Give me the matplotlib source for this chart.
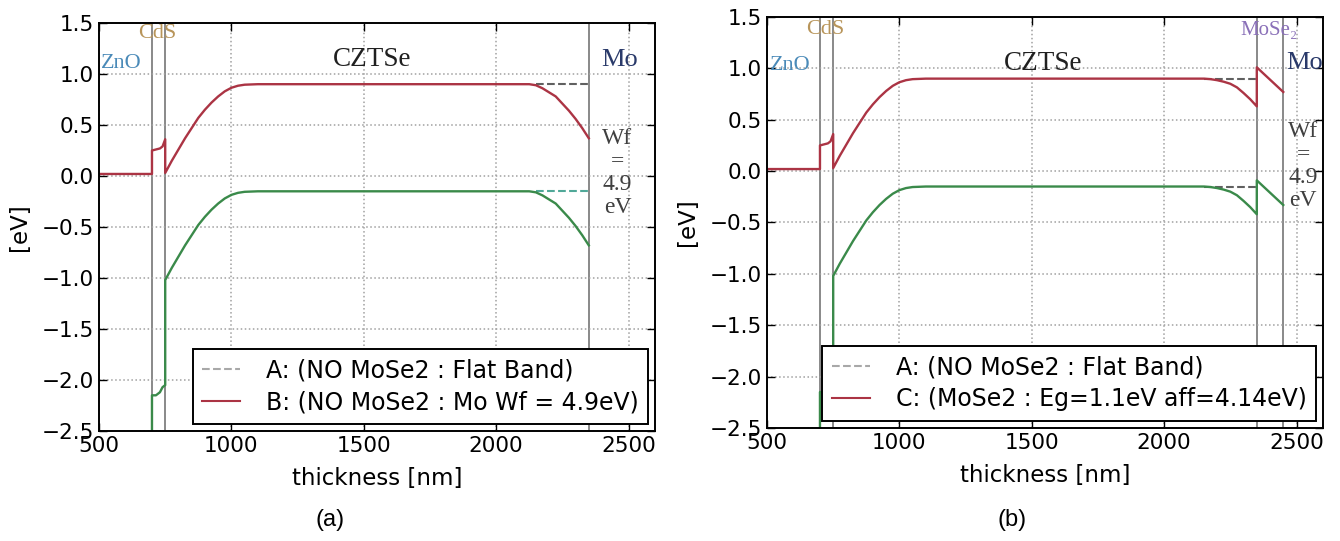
import matplotlib
matplotlib.use("Agg")
import matplotlib.pyplot as plt
from matplotlib.lines import Line2D

# thickness [nm] for ZnO / CdS / front of CZTSe (shared by both panels)
x_front = [500, 700, 700, 715, 730, 740, 750, 750, 775, 800, 825, 850, 875, 900,
           925, 950, 975, 1000, 1025, 1050, 1100, 2125]
cb_front = [0.02, 0.02, 0.25, 0.26, 0.27, 0.29, 0.36, 0.03, 0.15, 0.26, 0.37, 0.47,
            0.57, 0.65, 0.72, 0.78, 0.83, 0.865, 0.885, 0.895, 0.9, 0.9]
vb_front = [-3.28, -3.28, -2.15, -2.15, -2.12, -2.07, -2.05, -1.02, -0.9, -0.79,
            -0.68, -0.58, -0.48, -0.40, -0.33, -0.27, -0.22, -0.185, -0.165,
            -0.155, -0.15, -0.15]

# back contact, case B (no MoSe2, Mo Wf = 4.9 eV)
x_back_a = [2150, 2175, 2200, 2225, 2250, 2275, 2300, 2325, 2350]
cb_back_a = [0.89, 0.86, 0.82, 0.78, 0.71, 0.64, 0.56, 0.47, 0.37]
vb_back_a = [-0.16, -0.19, -0.23, -0.27, -0.34, -0.41, -0.49, -0.58, -0.68]

# back contact, case C (MoSe2 layer 2350-2450 nm)
x_back_b = [2150, 2175, 2200, 2225, 2250, 2275, 2300, 2325, 2350, 2350,
            2375, 2400, 2425, 2450]
cb_back_b = [0.9, 0.895, 0.885, 0.87, 0.85, 0.815, 0.76, 0.70, 0.63, 1.01,
             0.95, 0.89, 0.83, 0.77]
vb_back_b = [-0.15, -0.155, -0.165, -0.18, -0.20, -0.235, -0.29, -0.35, -0.42,
             -0.09, -0.15, -0.21, -0.27, -0.33]

# case A: flat band at the back
x_flat = [2150, 2350]
cb_flat = [0.9, 0.9]
vb_flat = [-0.15, -0.15]

bounds_a = [700, 750, 2350]
bounds_b = [700, 750, 2350, 2450]

CB_COLOR = '#ab3444'
VB_COLOR = '#3a8a4a'
SERIF = ['Liberation Serif', 'DejaVu Serif']

plt.rcParams['font.family'] = ['DejaVu Sans']

fig = plt.figure(figsize=(13.4, 5.41), dpi=100)
ax_a = fig.add_axes([0.0739, 0.2033, 0.4149, 0.7542])
ax_b = fig.add_axes([0.5724, 0.2089, 0.4149, 0.7597])


def setup_axes(ax, bounds):
    for b in bounds:
        ax.axvline(b, color='#808080', lw=1.3, zorder=1)
    ax.set_xlim(500, 2600)
    ax.set_ylim(-2.5, 1.5)
    ax.set_xticks([500, 1000, 1500, 2000, 2500])
    ax.set_yticks([-2.5, -2.0, -1.5, -1.0, -0.5, 0.0, 0.5, 1.0, 1.5])
    ax.grid(True, ls=':', color='#a0a0a0', lw=1.1)
    ax.tick_params(direction='in', top=True, right=True, length=6,
                   labelsize=15.5, width=1)
    for s in ax.spines.values():
        s.set_linewidth(1.4)
    ax.set_xlabel('thickness [nm]', fontsize=16.5, labelpad=8)
    ax.set_ylabel('[eV]', fontsize=16.5, labelpad=8)


def legend(ax, label_b):
    handles = [Line2D([], [], color='#a8a8a8', ls='--', lw=1.5),
               Line2D([], [], color=CB_COLOR, lw=1.5)]
    leg = ax.legend(handles, ['A: (NO MoSe2 : Flat Band)', label_b],
                    loc='lower right', fontsize=17, fancybox=False,
                    framealpha=1, edgecolor='black', handlelength=1.6,
                    handletextpad=1.1, borderaxespad=0.3, labelspacing=0.35)
    leg.get_frame().set_linewidth(1.4)


# ---- panel (a)
setup_axes(ax_a, bounds_a)
ax_a.plot(x_flat, cb_flat, ls='--', color='#606060', lw=1.5)
ax_a.plot(x_flat, vb_flat, ls='--', color='#50a898', lw=1.5)
ax_a.plot(x_front + x_back_a, cb_front + cb_back_a, color=CB_COLOR, lw=1.7)
ax_a.plot(x_front + x_back_a, vb_front + vb_back_a, color=VB_COLOR, lw=1.7)
ax_a.text(583, 1.1, 'ZnO', color='#4a8ab8', fontsize=16, family=SERIF,
          ha='center', va='center')
ax_a.text(720, 1.40, 'CdS', color='#b8955a', fontsize=16, family=SERIF,
          ha='center', va='center')
ax_a.text(1530, 1.14, 'CZTSe', color='#202020', fontsize=19.5, family=SERIF,
          ha='center', va='center')
ax_a.text(2466, 1.14, 'Mo', color='#2a3a6a', fontsize=19, family=SERIF,
          ha='center', va='center')
ax_a.text(2458, 0.03, 'Wf\n=\n4.9\neV', color='#404040', fontsize=17,
          family=SERIF, ha='center', va='center', linespacing=1.12)
legend(ax_a, 'B: (NO MoSe2 : Mo Wf = 4.9eV)')

# ---- panel (b)
setup_axes(ax_b, bounds_b)
ax_b.plot(x_flat, cb_flat, ls='--', color='#606060', lw=1.5)
ax_b.plot(x_flat, vb_flat, ls='--', color='#606060', lw=1.5)
ax_b.plot(x_front + x_back_b, cb_front + cb_back_b, color=CB_COLOR, lw=1.7)
ax_b.plot(x_front + x_back_b, vb_front + vb_back_b, color=VB_COLOR, lw=1.7)
ax_b.text(587, 1.03, 'ZnO', color='#4a8ab8', fontsize=16, family=SERIF,
          ha='center', va='center')
ax_b.text(720, 1.38, 'CdS', color='#b8955a', fontsize=16, family=SERIF,
          ha='center', va='center')
ax_b.text(1542, 1.05, 'CZTSe', color='#202020', fontsize=19.5, family=SERIF,
          ha='center', va='center')
ax_b.text(2394, 1.37, 'MoSe\u2082', color='#8a70b8', fontsize=15, family=SERIF,
          ha='center', va='center')
ax_b.text(2530, 1.05, 'Mo', color='#2a3a6a', fontsize=19, family=SERIF,
          ha='center', va='center')
ax_b.text(2525, 0.05, 'Wf\n=\n4.9\neV', color='#404040', fontsize=17,
          family=SERIF, ha='center', va='center', linespacing=1.12)
legend(ax_b, 'C: (MoSe2 : Eg=1.1eV aff=4.14eV)')

fig.text(0.246, 0.039, '(a)', fontsize=17, family='Liberation Sans',
         ha='center', va='center')
fig.text(0.755, 0.039, '(b)', fontsize=17, family='Liberation Sans',
         ha='center', va='center')

fig.savefig('out.png', dpi=100)
